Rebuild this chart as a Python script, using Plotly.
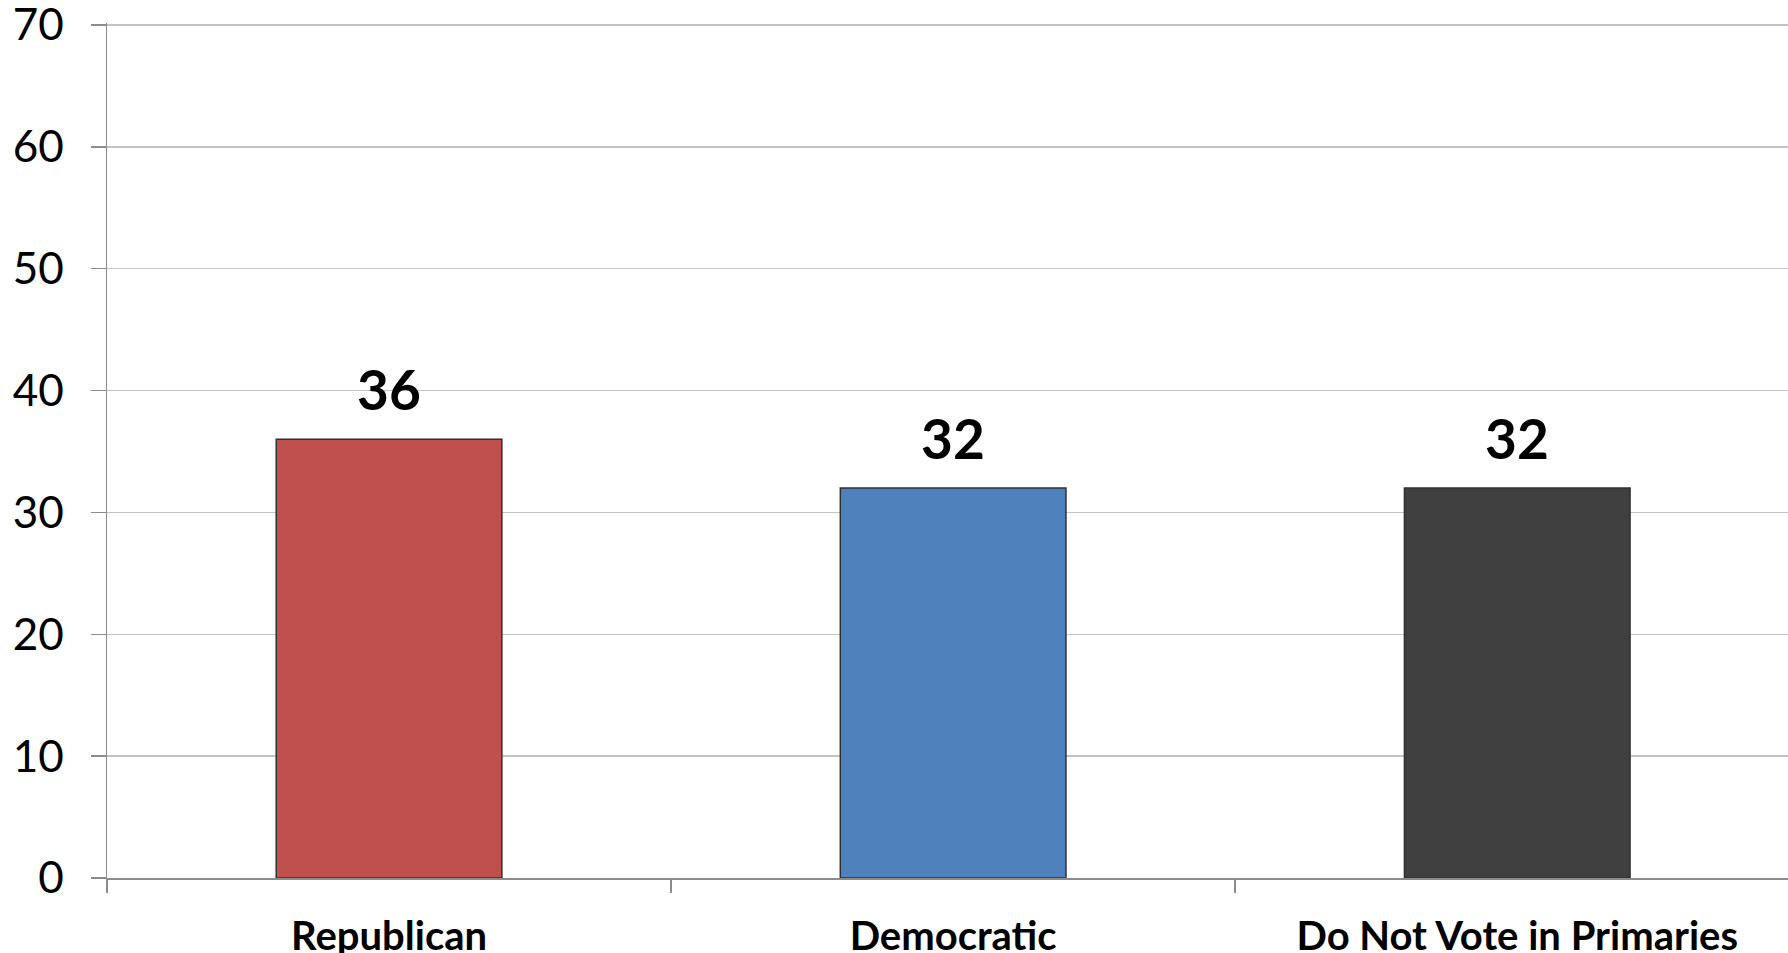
import plotly.graph_objects as go

categories = ["Republican", "Democratic", "Do Not Vote in Primaries"]
values = [36, 32, 32]
colors = ["#C0504D", "#4F81BD", "#404040"]
y_ticks = [0, 10, 20, 30, 40, 50, 60, 70]

FONT = "Lato"

fig = go.Figure()
fig.add_trace(go.Bar(
    x=categories, y=values, width=0.4,
    marker=dict(color=colors, line=dict(color="#303030", width=1.5)),
    hoverinfo="skip",
))

for c, v in zip(categories, values):
    fig.add_annotation(x=c, y=v, text=f"<b>{v}</b>", showarrow=False,
                       yanchor="bottom", yshift=15,
                       font=dict(family=FONT, size=55, color="#000000"))

fig.update_layout(
    width=1788, height=953,
    margin=dict(l=107, r=0, t=23, b=75, autoexpand=False),
    paper_bgcolor="white", plot_bgcolor="white",
    showlegend=False,
    font=dict(family=FONT, color="#000000"),
)
fig.update_yaxes(
    range=[0, 70.16], tickvals=y_ticks, automargin=False,
    showgrid=True, gridcolor="#C4C4C4", gridwidth=1.5,
    showline=True, linecolor="#8C8C8C", linewidth=1.5,
    ticks="outside", ticklen=15, tickcolor="#8C8C8C", tickwidth=1.5,
    tickfont=dict(family=FONT, size=44, color="#000000"),
    ticklabelstandoff=18, ticklabeloverflow="allow", zeroline=False,
)
fig.update_xaxes(
    type="category", range=[-0.5, 2.48], automargin=False,
    showline=True, linecolor="#8C8C8C", linewidth=1.5,
    ticks="outside", tickson="boundaries", ticklen=13,
    tickcolor="#8C8C8C", tickwidth=1.5,
    tickfont=dict(family=FONT, size=40, color="#000000"),
    tickvals=categories, ticktext=[f"<b>{c}</b>" for c in categories],
    ticklabelstandoff=22, ticklabeloverflow="allow", showgrid=False,
)

fig.write_html(
    "out.html",
    config={"displayModeBar": False, "staticPlot": True},
    post_script="document.body.style.margin='0px';document.body.style.overflow='hidden';",
)
